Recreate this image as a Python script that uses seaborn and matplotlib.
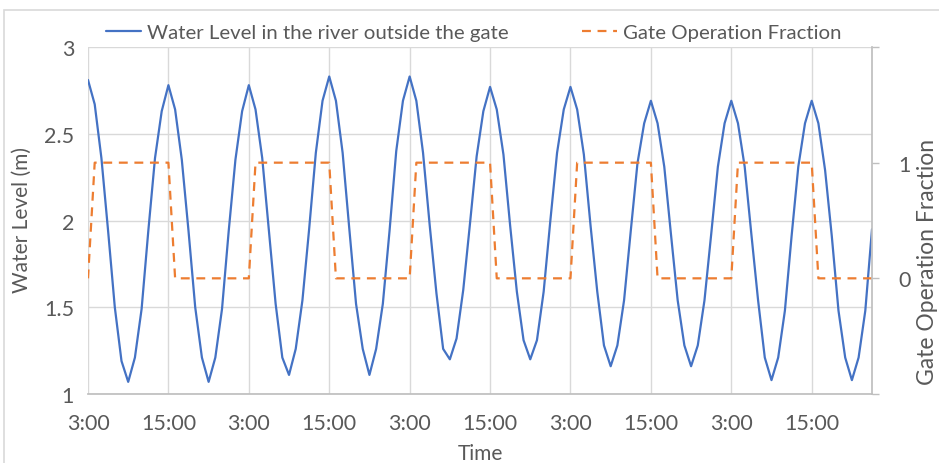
import numpy as np
import pandas as pd
import matplotlib
matplotlib.use("Agg")
import matplotlib.pyplot as plt
import seaborn as sns
from matplotlib.patches import Rectangle

# hourly water level (m)
water_level = [2.81, 2.67, 2.36, 1.94, 1.50, 1.19, 1.07, 1.21, 1.49, 1.94, 2.36, 2.63,
               2.78, 2.64, 2.35, 1.94, 1.50, 1.21, 1.07, 1.21, 1.49, 1.94, 2.35, 2.63,
               2.78, 2.64, 2.36, 1.94, 1.52, 1.21, 1.11, 1.26, 1.54, 1.95, 2.39, 2.69,
               2.83, 2.69, 2.39, 1.95, 1.52, 1.26, 1.11, 1.26, 1.52, 1.94, 2.40, 2.69,
               2.83, 2.69, 2.39, 1.97, 1.58, 1.26, 1.20, 1.32, 1.60, 1.98, 2.37, 2.63,
               2.77, 2.64, 2.38, 1.97, 1.59, 1.31, 1.20, 1.31, 1.59, 2.00, 2.39, 2.64,
               2.77, 2.64, 2.38, 1.97, 1.59, 1.28, 1.16, 1.28, 1.54, 1.94, 2.33, 2.56,
               2.69, 2.56, 2.31, 1.92, 1.54, 1.28, 1.16, 1.28, 1.54, 1.92, 2.31, 2.56,
               2.69, 2.56, 2.31, 1.92, 1.54, 1.21, 1.08, 1.21, 1.48, 1.91, 2.31, 2.56,
               2.69, 2.56, 2.29, 1.91, 1.48, 1.21, 1.08, 1.21, 1.48, 1.95]

# gate operation fraction (0 = closed, 1 = open)
gate_fraction = [0, 1, 1, 1, 1, 1, 1, 1, 1, 1, 1, 1,
                 1, 0, 0, 0, 0, 0, 0, 0, 0, 0, 0, 0,
                 0, 1, 1, 1, 1, 1, 1, 1, 1, 1, 1, 1,
                 1, 0, 0, 0, 0, 0, 0, 0, 0, 0, 0, 0,
                 0, 1, 1, 1, 1, 1, 1, 1, 1, 1, 1, 1,
                 1, 0, 0, 0, 0, 0, 0, 0, 0, 0, 0, 0,
                 0, 1, 1, 1, 1, 1, 1, 1, 1, 1, 1, 1,
                 1, 0, 0, 0, 0, 0, 0, 0, 0, 0, 0, 0,
                 0, 1, 1, 1, 1, 1, 1, 1, 1, 1, 1, 1,
                 1, 0, 0, 0, 0, 0, 0, 0, 0, 0]

tick_labels = ["3:00", "15:00", "3:00", "15:00", "3:00", "15:00", "3:00", "15:00", "3:00", "15:00"]

df = pd.DataFrame({"hour": np.arange(len(water_level)),
                   "level": water_level,
                   "gate": gate_fraction})

sns.set_theme(style="white")
plt.rcParams["font.family"] = ["Lato", "DejaVu Sans"]
text_col = "#595959"
grid_col = "#d9d9d9"
W, H = 939, 464

fig = plt.figure(figsize=(W / 100, H / 100), dpi=100)
ax = fig.add_axes([88 / W, 1 - 395 / H, (872 - 88) / W, (395 - 48) / H])
ax2 = ax.twinx()

# chart border
fig.patches.append(Rectangle((4 / W, -0.05), 1.1, 1 - 11 / H + 0.05, transform=fig.transFigure,
                             fill=False, edgecolor="#d9d9d9", linewidth=1.2))

sns.lineplot(data=df, x="hour", y="level", ax=ax, color="#4472C4", linewidth=1.6,
             label="Water Level in the river outside the gate", legend=False)
sns.lineplot(data=df, x="hour", y="gate", ax=ax2, color="#ED7D31", linewidth=1.6,
             linestyle=(0, (4, 3)), label="Gate Operation Fraction", legend=False)

ax.set_xlim(0, len(water_level) - 1)
ax.set_ylim(1, 3)
ax.set_yticks([1, 1.5, 2, 2.5, 3])
ax.set_yticklabels(["1", "1.5", "2", "2.5", "3"])
ax.set_xticks(np.arange(0, len(water_level), 12))
ax.set_xticklabels(tick_labels)
ax2.set_ylim(-1, 2)
ax2.set_yticks([-1, 0, 1, 2])
ax2.set_yticklabels(["", "0", "1", ""])

ax.grid(True, color=grid_col, linewidth=1)
ax.set_axisbelow(True)
for s in ["top", "left", "right"]:
    ax.spines[s].set_visible(False)
    ax2.spines[s].set_visible(False)
ax.spines["bottom"].set_color("#bfbfbf")
ax2.spines["bottom"].set_visible(False)
ax2.spines["right"].set_visible(True)
ax2.spines["right"].set_color("#bfbfbf")

ax.tick_params(axis="x", length=0, pad=14, labelsize=15.5, labelcolor=text_col)
ax.tick_params(axis="y", length=0, pad=10, labelsize=15.5, labelcolor=text_col)
ax2.tick_params(axis="y", length=5, width=1, color="#bfbfbf", pad=14, labelsize=15.5,
                labelcolor=text_col, direction="out")
ax.set_xlabel("")
ax.set_ylabel("")
ax2.set_ylabel("")

fig.text(480 / W, 1 - 454 / H, "Time", fontsize=15, color=text_col, ha="center", va="center")
fig.text(22 / W, 1 - 220 / H, "Water Level (m)", fontsize=15, color=text_col,
         rotation=90, ha="center", va="center")
fig.text(928 / W, 1 - 262 / H, "Gate Operation Fraction", fontsize=16.5, color=text_col,
         rotation=90, ha="center", va="center")

h1, l1 = ax.get_legend_handles_labels()
h2, l2 = ax2.get_legend_handles_labels()
fig.legend(h1 + h2, l1 + l2, loc="center", bbox_to_anchor=(474 / W, 1 - 33 / H),
           ncol=2, frameon=False, fontsize=14.7, labelcolor=text_col,
           handlelength=1.7, handletextpad=0.3, columnspacing=3.6)

fig.savefig("out.png", dpi=100)
